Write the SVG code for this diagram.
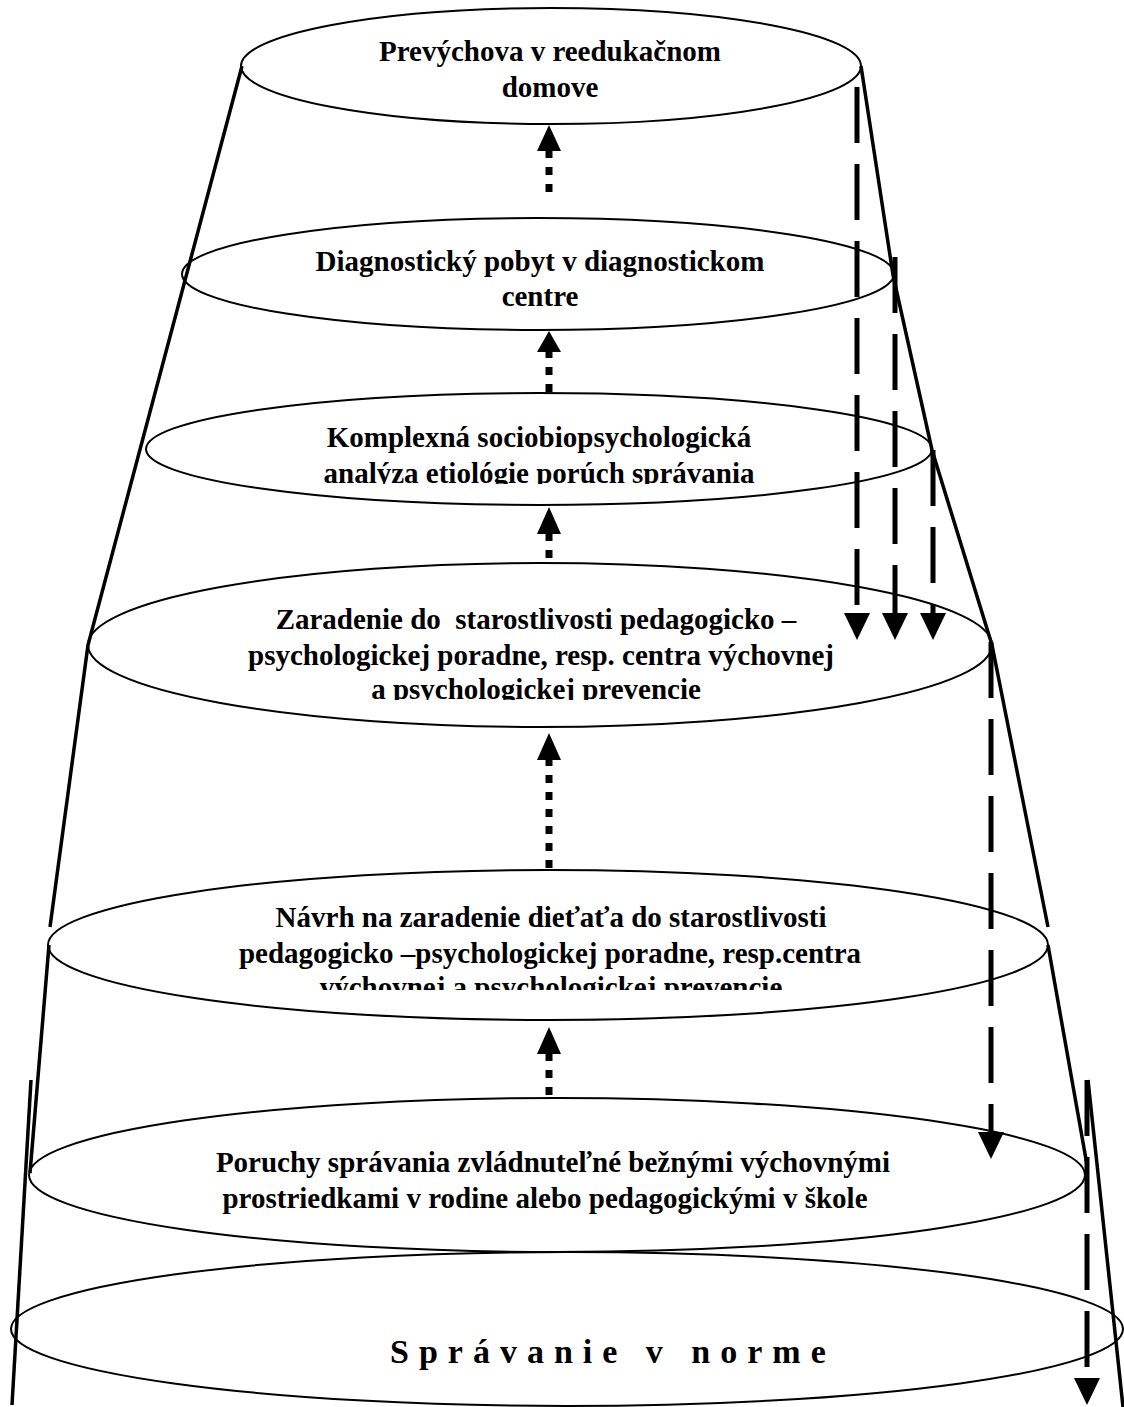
<svg xmlns="http://www.w3.org/2000/svg" width="1124" height="1407" viewBox="0 0 1124 1407">
<style>
.ell{fill:none;stroke:#000;stroke-width:2}
.cone{fill:none;stroke:#000;stroke-width:3.5}
.t{font-family:"Liberation Serif","Times New Roman",serif;font-weight:bold;font-size:29px;fill:#000;text-anchor:middle}
.big{font-family:"Liberation Serif","Times New Roman",serif;font-weight:bold;font-size:34px;fill:#000;letter-spacing:10px}
.dash{stroke:#000;stroke-width:5;stroke-dasharray:56 21;fill:none}
.dot{stroke:#000;stroke-width:7;stroke-dasharray:8 9;fill:none}
.head{fill:#000}
</style>
<defs>
<clipPath id="c3"><rect x="0" y="0" width="1124" height="484"/></clipPath>
<clipPath id="c4"><rect x="0" y="0" width="1124" height="700"/></clipPath>
<clipPath id="c5"><rect x="0" y="0" width="1124" height="990"/></clipPath>
</defs>

<g id="cone">
<polyline class="cone" points="242,66 88,645 50,927"/>
<line class="cone" x1="49" y1="945" x2="30" y2="1173"/>
<line class="cone" x1="31" y1="1080" x2="12" y2="1405"/>
<polyline class="cone" points="861,66 893,275 932,450 992,645 1048,927"/>
<line class="cone" x1="1048" y1="945" x2="1087" y2="1165"/>
<line class="cone" x1="1088" y1="1080" x2="1123" y2="1407"/>
</g>

<g id="n1">
<ellipse class="ell" cx="551" cy="66" rx="310" ry="58"/>
<text class="t" x="550" y="61">Prevýchova v reedukačnom</text>
<text class="t" x="550" y="97">domove</text>
</g>

<g id="n2">
<ellipse class="ell" cx="538" cy="274" rx="356" ry="56"/>
<text class="t" x="540" y="271">Diagnostický pobyt v diagnostickom</text>
<text class="t" x="540" y="306">centre</text>
</g>

<g id="n3">
<ellipse class="ell" cx="539" cy="449" rx="393" ry="56"/>
<g clip-path="url(#c3)">
<text class="t" x="539" y="447">Komplexná sociobiopsychologická</text>
<text class="t" x="539" y="483">analýza etiológie porúch správania</text>
</g>
</g>

<g id="n4">
<ellipse class="ell" cx="540" cy="645" rx="452" ry="82"/>
<g clip-path="url(#c4)">
<text class="t" x="536" y="629" xml:space="preserve">Zaradenie do  starostlivosti pedagogicko –</text>
<text class="t" x="541" y="665">psychologickej poradne, resp. centra výchovnej</text>
<text class="t" x="536" y="699">a psychologickej prevencie</text>
</g>
</g>

<g id="n5">
<ellipse class="ell" cx="548" cy="945" rx="500" ry="75"/>
<g clip-path="url(#c5)">
<text class="t" x="551" y="927">Návrh na zaradenie dieťaťa do starostlivosti</text>
<text class="t" x="550" y="963">pedagogicko –psychologickej poradne, resp.centra</text>
<text class="t" x="551" y="997">výchovnej a psychologickej prevencie</text>
</g>
</g>

<g id="n6">
<ellipse class="ell" cx="557" cy="1175" rx="528" ry="77"/>
<text class="t" x="553" y="1172">Poruchy správania zvládnuteľné bežnými výchovnými</text>
<text class="t" x="545" y="1208">prostriedkami v rodine alebo pedagogickými v škole</text>
</g>

<g id="n7">
<ellipse class="ell" cx="567" cy="1329" rx="556" ry="77"/>
<text class="big" x="390" y="1363">Správanie v norme</text>
</g>

<g id="connectors">
<line class="dot" x1="549" y1="150" x2="549" y2="201"/>
<polygon class="head" points="549,125 537,151 561,151"/>
<line class="dot" x1="549" y1="350" x2="549" y2="396"/>
<polygon class="head" points="549,331 537,352 561,352"/>
<line class="dot" x1="549" y1="533" x2="549" y2="562"/>
<polygon class="head" points="549,507 537,534 561,534"/>
<line class="dot" x1="549" y1="758" x2="549" y2="870"/>
<polygon class="head" points="549,733 537,760 561,760"/>
<line class="dot" x1="549" y1="1053" x2="549" y2="1100"/>
<polygon class="head" points="549,1027 537,1054 561,1054"/>

<line class="dash" x1="857" y1="87" x2="857" y2="613"/>
<polygon class="head" points="844,613 870,613 857,640"/>
<line class="dash" x1="895" y1="257" x2="895" y2="613"/>
<polygon class="head" points="882,613 908,613 895,640"/>
<line class="dash" x1="933" y1="450" x2="933" y2="613"/>
<polygon class="head" points="920,613 946,613 933,640"/>
<line class="dash" x1="991" y1="642" x2="991" y2="1132"/>
<polygon class="head" points="978,1132 1004,1132 991,1159"/>
<line class="dash" x1="1087" y1="1080" x2="1087" y2="1370"/>
<polygon class="head" points="1074,1378 1100,1378 1087,1405"/>
</g>
</svg>
